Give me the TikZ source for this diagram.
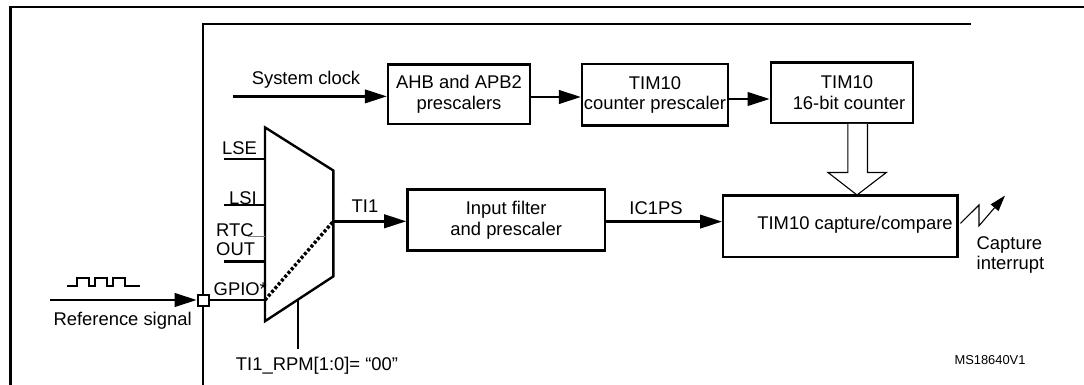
\documentclass[tikz,border=0pt]{standalone}
\usepackage{fontspec}
\setmainfont{Liberation Sans}
\usetikzlibrary{arrows.meta,calc}
\tikzset{
  lbl/.style={inner sep=0pt, font=\fontsize{18.4}{20.5}\selectfont, align=center},
  blk/.style={draw, line width=2.4pt, inner sep=0pt, font=\fontsize{18.4}{20.5}\selectfont, align=center},
  wire/.style={line width=2.4pt},
  arr/.style={line width=2.4pt, -{Triangle[length=22pt,width=13.5pt]}},
  thinline/.style={line width=1.1pt},
}
\begin{document}
\begin{tikzpicture}[x=1pt,y=-1pt]
\useasboundingbox (0,0) rectangle (1084,385);
% frames
\draw[wire] (10.3,385) -- (10.3,7) -- (1084,7);
\draw[wire] (203,386) -- (203,24) -- (971,24);
% blocks
\node[blk, minimum width=142pt, minimum height=59.6pt] (ahb) at (459,94.2) {AHB and APB2\\prescalers};
\node[blk, minimum width=145.7pt, minimum height=61.6pt] (cp) at (655,94.8) {TIM10\\counter prescaler};
\node[blk, minimum width=142.3pt, minimum height=60.5pt] (cnt) at (842,92.8) {\hspace*{10pt}TIM10\\\hspace*{14pt}16-bit counter};
\node[blk, minimum width=197.6pt, minimum height=61pt] (inp) at (506.2,220.1) {Input filter\\and prescaler};
\node[blk, minimum width=234.2pt, minimum height=61.4pt] (cc) at (840.3,226.3) {};
\node[lbl] (cctext) at (855,225) {TIM10 capture/compare};
% system clock
\coordinate (sysin) at (233,96.4);
\draw[arr] (sysin) -- (sysin -| ahb.west);
\node[lbl] (syslbl) at (306,80) {System clock};
\coordinate (a1) at ($(ahb.east)+(0,2.8)$);
\draw[arr] (a1) -- (a1 -| cp.west);
\coordinate (a2) at ($(cp.east)+(0,4.2)$);
\draw[arr] (a2) -- (a2 -| cnt.west);
% hollow arrow
\draw[thinline, fill=white] (847.8,124) -- (847.8,172.5) -- (828,172.5) -- (857,195) -- (886.3,172.5) -- (867.5,172.5) -- (867.5,124);
% mux
\coordinate (m1) at (265,127.4);
\coordinate (m2) at (333.3,170.5);
\coordinate (m3) at (333.3,276.4);
\coordinate (m4) at (265,321.2);
\draw[wire, line join=miter] (m1) -- (m2) -- (m3) -- (m4) -- cycle;
\coordinate (lse) at (224,159);
\coordinate (lsi) at (224,205);
\coordinate (rtc) at (224,261.6);
\draw[wire] (lse) -- (lse -| m1);
\draw[wire] (lsi) -- (lsi -| m1);
\draw[wire] (rtc) -- (rtc -| m1);
\draw[line width=0.6pt, gray] (248,236.7) -- (265,236.7);
\node[lbl, anchor=east] (lselbl) at (257,148) {LSE};
\node[lbl, anchor=east] (lsilbl) at (257,198) {LSI};
\node[lbl, anchor=west] (rtclbl) at (216,230) {RTC};
\node[lbl, anchor=west] (outlbl) at (216,249) {OUT};
% gpio / reference
\node[draw, line width=2pt, fill=white, minimum size=11pt, inner sep=0pt] (sq) at (203.2,300) {};
\coordinate (refin) at (50,300);
\draw[arr] (refin) -- (sq.west);
\draw[wire] (sq.east) -- (sq -| m1);
\node[lbl, anchor=west] (gpiolbl) at (213.5,289.5) {GPIO*};
\coordinate (ti1o) at (333.3,221.3);
\draw[line width=3.4pt, dash pattern=on 3pt off 2pt] (sq -| m1) -- (ti1o);
\draw[arr] (ti1o) -- (ti1o -| inp.west);
\node[lbl] (ti1lbl) at (365,205.8) {TI1};
% select
\coordinate (sel) at (298.2,299.4);
\coordinate (selend) at (298.2,348.7);
\draw[wire] (sel) -- (selend);
\node[lbl] (rpmlbl) at (317,366) {TI1\_RPM[1:0]= “00”};
% reference signal
\node[lbl] (reflbl) at (122.6,321) {Reference signal};
\draw[line width=2.4pt, line join=miter] (67,286) -- (77,286) -- (77,278) -- (89,278) -- (89,286) -- (95,286) -- (95,278) -- (107,278) -- (107,286) -- (113,286) -- (113,278) -- (125,278) -- (125,286) -- (140,286);
% IC1PS
\coordinate (a3) at ($(inp.east)+(0,1.5)$);
\draw[arr] (a3) -- (a3 -| cc.west);
\node[lbl] (iclbl) at (656,207.8) {IC1PS};
% capture interrupt
\coordinate (z0) at (960.5,223.4);
\coordinate (z1) at (979,205);
\coordinate (z2) at (979,225.8);
\coordinate (z3) at (1005,195.6);
\draw[thinline, -{Triangle[length=16pt,width=10pt]}] (z0) -- (z1) -- (z2) -- (z3);
\node[lbl, anchor=west, align=left] (intlbl) at (976.5,255) {Capture\\interrupt};
\node[inner sep=0pt, font=\fontsize{12.9}{14}\selectfont] (ms) at (990,359.7) {MS18640V1};
\end{tikzpicture}
\end{document}
